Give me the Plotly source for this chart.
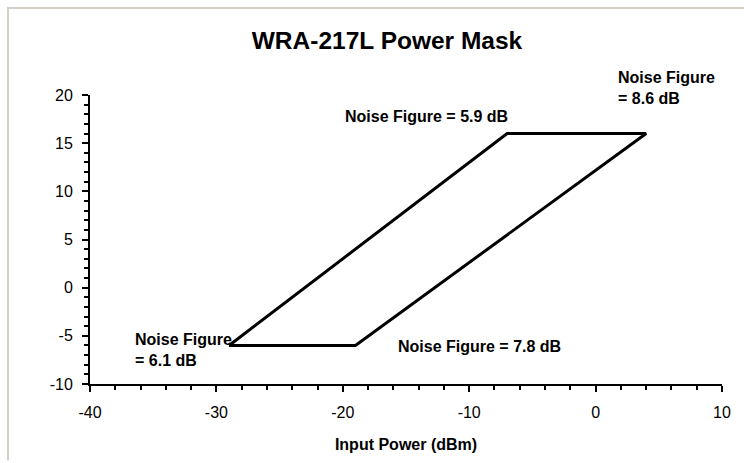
import plotly.graph_objects as go

# Data
mask_x = [-29, -7, 4, -19, -29]
mask_y = [-6, 16, 16, -6, -6]

label_texts = ["Noise Figure = 5.9 dB", "Noise Figure<br>= 8.6 dB",
               "Noise Figure<br>= 6.1 dB", "Noise Figure = 7.8 dB"]
label_x = [-19.95, 1.62, -36.58, -15.8]
label_y = [17.76, 20.77, -6.46, -6.15]

x_ticks = [-40, -30, -20, -10, 0, 10]
y_ticks = [-10, -5, 0, 5, 10, 15, 20]
x_range = [-40, 10]
y_range = [-10, 20]

FONT = "Liberation Sans, Arial, sans-serif"

fig = go.Figure()
fig.add_trace(go.Scatter(
    x=mask_x, y=mask_y, mode="lines",
    line=dict(color="black", width=3),
    showlegend=False, hoverinfo="skip",
))

for t, x, y in zip(label_texts, label_x, label_y):
    # labels above the axis range are placed in paper units (converted from data)
    if y > y_range[1]:
        yy, yr = (y - y_range[0]) / (y_range[1] - y_range[0]), "paper"
    else:
        yy, yr = y, "y"
    fig.add_annotation(
        x=x, y=yy, xref="x", yref=yr, text=t, showarrow=False,
        xanchor="left", yanchor="middle", align="left",
        font=dict(family=FONT, size=16, color="black", weight="bold"),
    )

W, H = 744, 463
L, R, T, B = 90, 22, 95, 77
pw, ph = W - L - R, H - T - B

def px_to_paper_x(px):
    return (px - L) / pw

def px_to_paper_y(py):
    return (H - B - py) / ph

frame_color = "#d4d0c8"
fig.add_shape(type="line", xref="paper", yref="paper",
              x0=px_to_paper_x(7), x1=px_to_paper_x(744),
              y0=px_to_paper_y(7.5), y1=px_to_paper_y(7.5),
              line=dict(color=frame_color, width=2), layer="below")
fig.add_shape(type="line", xref="paper", yref="paper",
              x0=px_to_paper_x(8), x1=px_to_paper_x(8),
              y0=px_to_paper_y(7), y1=px_to_paper_y(463),
              line=dict(color=frame_color, width=2), layer="below")

fig.update_layout(
    width=W, height=H,
    margin=dict(l=L, r=R, t=T, b=B),
    paper_bgcolor="white", plot_bgcolor="white",
    font=dict(family=FONT, size=16, color="black"),
    title=dict(
        text="<b>WRA-217L Power Mask</b>",
        x=387 / W, xanchor="center", xref="container",
        y=1 - 40 / H, yanchor="middle", yref="container",
        font=dict(family=FONT, size=24.5, color="black"),
    ),
    xaxis=dict(
        range=x_range, tickvals=x_ticks, ticktext=[str(v) for v in x_ticks],
        showgrid=False, zeroline=False,
        showline=True, linecolor="black", linewidth=2,
        ticks="outside", ticklen=6, tickwidth=2, tickcolor="black",
        minor=dict(dtick=2, ticks="outside", ticklen=4, tickwidth=1.5, tickcolor="black", showgrid=False),
        tickfont=dict(family=FONT, size=16),
        ticklabelstandoff=7,
        title=dict(text="<b>Input Power (dBm)</b>", font=dict(family=FONT, size=16), standoff=19),
        fixedrange=True,
    ),
    yaxis=dict(
        range=y_range, tickvals=y_ticks, ticktext=[str(v) for v in y_ticks],
        showgrid=False, zeroline=False,
        showline=True, linecolor="black", linewidth=2,
        ticks="outside", ticklen=6, tickwidth=2, tickcolor="black",
        minor=dict(dtick=1, ticks="outside", ticklen=4, tickwidth=1.5, tickcolor="black", showgrid=False),
        tickfont=dict(family=FONT, size=16),
        ticklabelstandoff=6,
        fixedrange=True,
    ),
)

fig.write_html("out.html", config={"displayModeBar": False},
               post_script="document.body.style.margin='0';")
